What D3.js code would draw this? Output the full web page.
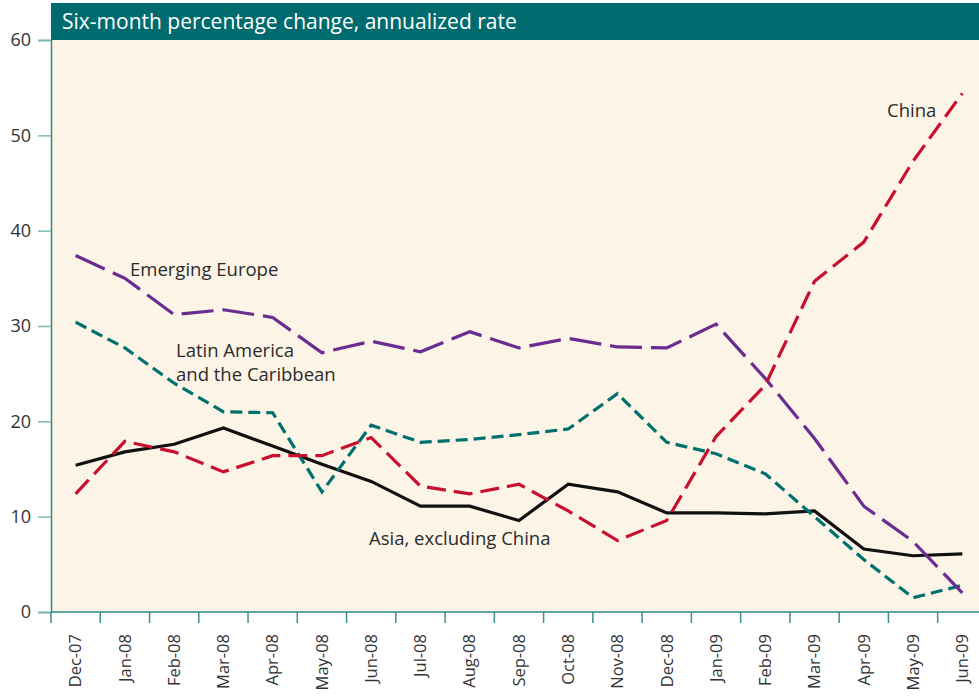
<!DOCTYPE html>
<html>
<head>
<meta charset="utf-8">
<script src="https://cdn.jsdelivr.net/npm/d3@7"></script>
<style>
  body { margin: 0; background: #fff; }
  text { font-family: "Open Sans", "Noto Sans", sans-serif; }
</style>
</head>
<body>
<div id="chart"></div>
<script>
// months on the x axis
let months = ["Dec-07","Jan-08","Feb-08","Mar-08","Apr-08","May-08","Jun-08","Jul-08","Aug-08","Sep-08",
              "Oct-08","Nov-08","Dec-08","Jan-09","Feb-09","Mar-09","Apr-09","May-09","Jun-09"];
let yTicks = [0, 10, 20, 30, 40, 50, 60];

// series values
let europe = [37.4, 35.0, 31.2, 31.7, 30.9, 27.2, 28.4, 27.3, 29.4, 27.7, 28.7, 27.8, 27.7, 30.2, 24.5, 18.2, 11.1, 7.4, 2.0];
let latam  = [30.4, 27.7, 24.0, 21.0, 20.9, 12.6, 19.6, 17.8, 18.1, 18.6, 19.2, 22.9, 17.8, 16.6, 14.5, 10.0, 5.5, 1.5, 2.8];
let asia   = [15.4, 16.8, 17.6, 19.3, 17.4, 15.5, 13.7, 11.1, 11.1, 9.6, 13.4, 12.6, 10.4, 10.4, 10.3, 10.6, 6.6, 5.9, 6.1];
let china  = [12.4, 17.9, 16.8, 14.7, 16.4, 16.4, 18.3, 13.2, 12.4, 13.4, 10.6, 7.5, 9.6, 18.4, 23.8, 34.7, 38.8, 47.3, 54.4];

let w = 979
let h = 698
let plotLeft = 51, plotTop = 40, plotBottom = 612

let svg = d3.select("#chart")
  .append("svg")
    .attr("width", w)
    .attr("height", h)
;

let x = d3.scaleBand()
  .domain(months)
  .range([plotLeft, plotLeft + 19 * 49.26])
  .padding(0);

let y = d3.scaleLinear()
  .domain([0, 60])
  .range([plotBottom, plotTop]);

// plot background
svg.append("rect")
  .attr("x", plotLeft)
  .attr("y", plotTop)
  .attr("width", w - plotLeft)
  .attr("height", plotBottom - plotTop)
  .attr("fill", "#fcf4e7");

// header bar
svg.append("rect")
  .attr("x", plotLeft)
  .attr("y", 3)
  .attr("width", w - plotLeft)
  .attr("height", plotTop - 3)
  .attr("fill", "#006b6e");
svg.append("text")
  .text("Six-month percentage change, annualized rate")
  .attr("x", 62)
  .attr("y", 29)
  .attr("fill", "white")
  .attr("font-size", 21);

// y axis
let yAxis = svg.append("g")
  .attr("transform", "translate(" + plotLeft + ",0)")
  .call(d3.axisLeft(y).tickValues(yTicks).tickSize(13).tickPadding(7).tickFormat(d3.format("d")));
yAxis.select(".domain").attr("stroke", "#2f8787").attr("stroke-width", 1.5);
yAxis.selectAll(".tick line").attr("stroke", "#7db8b8").attr("stroke-width", 1.5);
yAxis.selectAll(".tick text").attr("fill", "#333").attr("font-size", 18)
  .attr("font-family", "Open Sans, Noto Sans, sans-serif");

// x axis: labels from the band axis, ticks at band edges
let xAxis = svg.append("g")
  .attr("transform", "translate(0," + plotBottom + ")")
  .call(d3.axisBottom(x).tickSize(0).tickPadding(0));
xAxis.select(".domain").remove();
xAxis.selectAll(".tick text")
  .attr("fill", "#333")
  .attr("font-size", 16.5)
  .attr("font-family", "Open Sans, Noto Sans, sans-serif")
  .attr("transform", "rotate(-90)")
  .attr("text-anchor", "end")
  .attr("x", -22)
  .attr("y", 0)
  .attr("dy", "0.35em");

svg.append("line")
  .attr("x1", plotLeft).attr("x2", w)
  .attr("y1", plotBottom).attr("y2", plotBottom)
  .attr("stroke", "#2f8787").attr("stroke-width", 1.5);

svg.selectAll(".edgetick")
  .data(months)
  .enter()
  .append("line")
    .classed("edgetick", true)
    .attr("x1", d => x(d)).attr("x2", d => x(d))
    .attr("y1", plotBottom).attr("y2", plotBottom + 11)
    .attr("stroke", "#3f8f8f")
    .attr("stroke-width", 1.5);

// lines
let line = d3.line()
  .x((d, i) => x(months[i]) + x.bandwidth() / 2)
  .y(d => y(d));

function drawSeries(values, color, dash){
  svg.append("path")
    .attr("d", line(values))
    .attr("fill", "none")
    .attr("stroke", color)
    .attr("stroke-width", 3.2)
    .attr("stroke-dasharray", dash)
    .attr("stroke-linejoin", "miter");
}
drawSeries(asia, "#111111", null);
drawSeries(latam, "#00706f", "12,6");
drawSeries(europe, "#6a2c91", "32,9");
drawSeries(china, "#c8102e", "19,8");

// series labels
function label(t, lx, ly){
  svg.append("text")
    .text(t)
    .attr("x", lx)
    .attr("y", ly)
    .attr("fill", "#2b2b2b")
    .attr("font-size", 18.5);
}
label("Emerging Europe", 130, 276);
label("Latin America", 176, 357);
label("and the Caribbean", 176, 381);
label("Asia, excluding China", 369, 545);
label("China", 887, 117);
</script>
</body>
</html>
